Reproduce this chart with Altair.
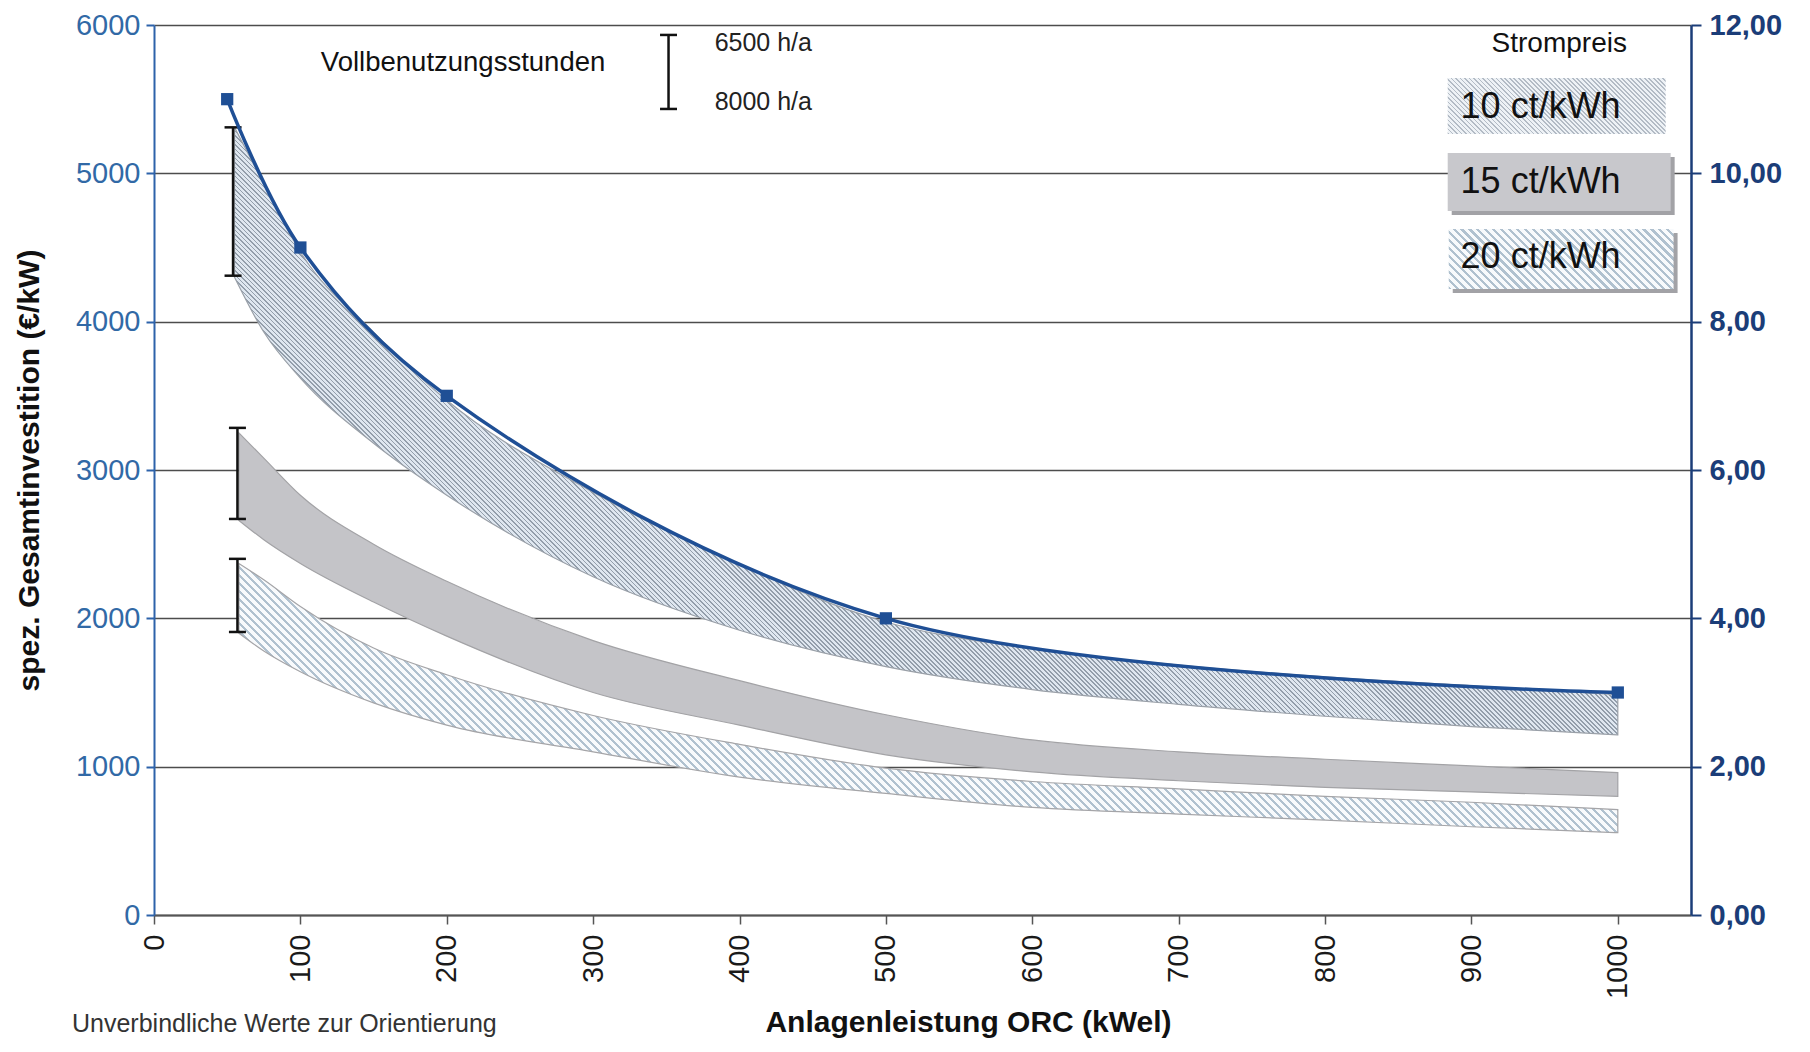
import altair as alt
import pandas as pd

# ---------------- data ----------------
# 10 ct/kWh band
x10 = [55, 75, 100, 150, 200, 300, 400, 500, 600, 700, 800, 900, 1000]
hi10 = [5310, 4930, 4470, 3930, 3470, 2850, 2360, 1975, 1795, 1685, 1605, 1545, 1485]
lo10 = [4300, 3930, 3620, 3180, 2830, 2280, 1920, 1675, 1520, 1420, 1340, 1270, 1214]
# 15 ct/kWh band
x15 = [58, 75, 100, 150, 200, 300, 400, 500, 600, 700, 800, 900, 1000]
hi15 = [3250, 3080, 2830, 2500, 2250, 1850, 1580, 1350, 1180, 1100, 1050, 1005, 960]
lo15 = [2660, 2530, 2370, 2110, 1880, 1500, 1280, 1080, 965, 905, 860, 830, 800]
# 20 ct/kWh band
x20 = [58, 75, 100, 150, 200, 300, 400, 500, 600, 700, 800, 900, 1000]
hi20 = [2370, 2260, 2080, 1800, 1620, 1345, 1150, 990, 900, 850, 800, 760, 710]
lo20 = [1900, 1780, 1640, 1430, 1280, 1100, 930, 820, 725, 680, 640, 595, 555]
# range bars (Vollbenutzungsstunden 6500 / 8000 h/a)
err_x = [54, 57, 57]
err_hi = [5310, 3284, 2401]
err_lo = [4310, 2670, 1908]
# blue line (right axis)
blue_x = [50, 100, 200, 500, 1000]
blue_v = [11.0, 9.0, 7.0, 4.0, 3.0]

x_ticks = [0, 100, 200, 300, 400, 500, 600, 700, 800, 900, 1000]
y_ticks = [0, 1000, 2000, 3000, 4000, 5000, 6000]
r_ticks = [0, 2, 4, 6, 8, 10, 12]

# legend / annotation content (data coordinates)
leg_err_x = [351.5]
leg_err_hi = [5933]
leg_err_lo = [5434]
ann_text = ["Vollbenutzungsstunden", "6500 h/a", "8000 h/a", "Strompreis"]
ann_x = [114, 383, 383, 960]
ann_y = [5744, 5879, 5481, 5872]
box_labels = ["10 ct/kWh", "15 ct/kWh", "20 ct/kWh"]
box_x1 = [883.8, 883.8, 884.5]
box_x2 = [1032.7, 1036.1, 1038.1]
box_top = [5643, 5137, 4625]
box_bot = [5265, 4746, 4220]
box_text_x = [892.6, 892.6, 892.6]
box_text_y = [5447, 4942, 4436]
footnote = "Unverbindliche  Werte zur Orientierung"

# ---------------- layout ----------------
PLOT_W, PLOT_H = 1537, 890
X_MAX, Y_MAX = 1050, 6000
PX_X = PLOT_W / X_MAX
PX_Y = PLOT_H / Y_MAX
FONT = "Liberation Sans, Arial, Helvetica, sans-serif"


def hatch(c_line, c_bg, w_px, h_px, spacing, duty):
    r = h_px / w_px
    s = (1 + r) / (1 + r * r)
    n = max(1, int(round((w_px + h_px) / spacing)))
    stops = []
    for k in range(n):
        a = round(k / n, 6)
        b = round((k + duty) / n, 6)
        c = round((k + 1) / n, 6)
        stops += [
            alt.GradientStop(offset=a, color=c_line),
            alt.GradientStop(offset=b, color=c_line),
            alt.GradientStop(offset=b, color=c_bg),
            alt.GradientStop(offset=c, color=c_bg),
        ]
    return alt.LinearGradient(gradient="linear", stops=stops,
                              x1=0, y1=1, x2=round(s, 6), y2=round(1 - r * s, 6))


xscale = alt.Scale(domain=[0, X_MAX], nice=False, zero=False)
yscale = alt.Scale(domain=[0, Y_MAX], nice=False)
rscale = alt.Scale(domain=[0, 12], nice=False)

x_axis = alt.Axis(values=x_ticks, format="d", labelAngle=270, labelFontSize=29,
                  labelColor="#1a1a1a", labelPadding=10, tickSize=9, tickColor="#555555",
                  tickWidth=1.5, domainColor="#555555", domainWidth=2, grid=False,
                  labelFlush=False, labelOverlap=False,
                  title="Anlagenleistung ORC (kWel)", titleFontSize=30, titleFontWeight="bold",
                  titleColor="#111111", titleX=814, titleY=116, titleAlign="center",
                  titleBaseline="alphabetic")
y_axis = alt.Axis(values=y_ticks, format="d", labelFontSize=29, labelColor="#3169a6",
                  labelPadding=6, tickSize=8, tickColor="#2d62aa", tickWidth=2,
                  domainColor="#2d62aa", domainWidth=2, grid=True, gridColor="#4d4d4d",
                  gridWidth=1.6, labelFlush=False,
                  title="spez. Gesamtinvestition (€/kW)", titleFontSize=30,
                  titleFontWeight="bold", titleColor="#111111", titleX=-125, titleY=445,
                  titleAngle=270, titleAlign="center", titleBaseline="middle")
r_axis = alt.Axis(orient="right", values=r_ticks,
                  labelExpr="replace(format(datum.value, '.2f'), '.', ',')",
                  labelFontSize=29, labelFontWeight="bold", labelColor="#1b3d78",
                  labelPadding=8, tickSize=10, tickColor="#1b3d78", tickWidth=2,
                  domainColor="#1b3d78", domainWidth=2.5, grid=False, labelFlush=False,
                  title=None)

X = lambda f: alt.X(f + ":Q", scale=xscale, axis=x_axis)
Y = lambda f: alt.Y(f + ":Q", scale=yscale, axis=y_axis)

# ---------------- bands ----------------
df10 = pd.DataFrame({"x": x10, "hi": hi10, "lo": lo10})
df15 = pd.DataFrame({"x": x15, "hi": hi15, "lo": lo15})
df20 = pd.DataFrame({"x": x20, "hi": hi20, "lo": lo20})

g10 = hatch("#939eab", "#dfe7f0", (max(x10) - min(x10)) * PX_X,
            (max(hi10) - min(lo10)) * PX_Y, 4.5, 0.4)
g20 = hatch("#b0c1cf", "#f8fafc", (max(x20) - min(x20)) * PX_X,
            (max(hi20) - min(lo20)) * PX_Y, 8, 0.4)

band10 = alt.Chart(df10).mark_area(fill=g10, stroke="#9aa0a8", strokeWidth=1.2,
                                   interpolate="monotone").encode(x=X("x"), y=Y("hi"), y2="lo:Q")
band15 = alt.Chart(df15).mark_area(fill="#c4c4c8", stroke="#a3a3a6", strokeWidth=1.2,
                                   interpolate="monotone").encode(x=X("x"), y=Y("hi"), y2="lo:Q")
band20 = alt.Chart(df20).mark_area(fill=g20, stroke="#a5a5a8", strokeWidth=1.2,
                                   interpolate="monotone").encode(x=X("x"), y=Y("hi"), y2="lo:Q")

# ---------------- range bars ----------------
dferr = pd.DataFrame({"x": err_x + leg_err_x, "hi": err_hi + leg_err_hi, "lo": err_lo + leg_err_lo})
err_rule = alt.Chart(dferr).mark_rule(color="#111111", strokeWidth=2.5).encode(
    x=X("x"), y=Y("hi"), y2="lo:Q")
err_cap_hi = alt.Chart(dferr).mark_tick(orient="horizontal", size=17, thickness=2.5,
                                        color="#111111", opacity=1).encode(x=X("x"), y=Y("hi"))
err_cap_lo = alt.Chart(dferr).mark_tick(orient="horizontal", size=17, thickness=2.5,
                                        color="#111111", opacity=1).encode(x=X("x"), y=Y("lo"))

# ---------------- annotations ----------------
dfann = pd.DataFrame({"x": ann_x, "y": ann_y, "t": ann_text})
ann_big = alt.Chart(dfann.iloc[[0]]).mark_text(align="left", baseline="middle", fontSize=27.5,
                                                color="#111111").encode(x=X("x"), y=Y("y"), text="t:N")
ann_small = alt.Chart(dfann.iloc[[1, 2]]).mark_text(align="left", baseline="middle", fontSize=25,
                                                     color="#222222").encode(x=X("x"), y=Y("y"), text="t:N")
ann_strom = alt.Chart(dfann.iloc[[3]]).mark_text(align="center", baseline="middle", fontSize=28,
                                                  color="#111111").encode(x=X("x"), y=Y("y"), text="t:N")

dfbox = pd.DataFrame({"x1": box_x1, "x2": box_x2, "top": box_top, "bot": box_bot,
                      "tx": box_text_x, "ty": box_text_y, "t": box_labels})
sh_dx = 4 / PX_X
sh_dy = 4 / PX_Y
dfshadow = pd.DataFrame({"x1": [v + sh_dx for v in box_x1[1:]], "x2": [v + sh_dx for v in box_x2[1:]],
                         "top": [v - sh_dy for v in box_top[1:]], "bot": [v - sh_dy for v in box_bot[1:]]})
shadow = alt.Chart(dfshadow).mark_rect(fill="#a2a2a6").encode(
    x=X("x1"), x2="x2:Q", y=Y("top"), y2="bot:Q")

gb10 = hatch("#b3bbc5", "#eef2f6", (box_x2[0] - box_x1[0]) * PX_X,
             (box_top[0] - box_bot[0]) * PX_Y, 4.5, 0.4)
gb20 = hatch("#b0c1cf", "#f8fafc", (box_x2[2] - box_x1[2]) * PX_X,
             (box_top[2] - box_bot[2]) * PX_Y, 8, 0.4)
box10 = alt.Chart(dfbox.iloc[[0]]).mark_rect(fill=gb10).encode(
    x=X("x1"), x2="x2:Q", y=Y("top"), y2="bot:Q")
box15 = alt.Chart(dfbox.iloc[[1]]).mark_rect(fill="#c8c8cc").encode(
    x=X("x1"), x2="x2:Q", y=Y("top"), y2="bot:Q")
box20 = alt.Chart(dfbox.iloc[[2]]).mark_rect(fill=gb20).encode(
    x=X("x1"), x2="x2:Q", y=Y("top"), y2="bot:Q")
box_txt = alt.Chart(dfbox).mark_text(align="left", baseline="middle", fontSize=36,
                                     color="#111111").encode(x=X("tx"), y=Y("ty"), text="t:N")

foot = alt.Chart(pd.DataFrame({"t": [footnote]})).mark_text(
    align="left", baseline="middle", fontSize=25, color="#333333").encode(
    x=alt.value(-82), y=alt.value(999), text="t:N")

left = alt.layer(band20, band15, band10, err_rule, err_cap_hi, err_cap_lo,
                 ann_big, ann_small, ann_strom, shadow, box10, box15, box20, box_txt, foot)

# ---------------- blue line (right axis) ----------------
dfb = pd.DataFrame({"x": blue_x, "v": blue_v})
blue_line = alt.Chart(dfb).mark_line(color="#1f4f95", strokeWidth=3.5,
                                     interpolate="catmull-rom").encode(
    x=X("x"), y=alt.Y("v:Q", scale=rscale, axis=r_axis))
blue_pts = alt.Chart(dfb).mark_square(size=150, color="#1f4f95", opacity=1, filled=True).encode(
    x=X("x"), y=alt.Y("v:Q", scale=rscale, axis=r_axis))
right = alt.layer(blue_line, blue_pts)

chart = alt.layer(left, right).resolve_scale(y="independent").properties(
    width=PLOT_W, height=PLOT_H,
    autosize=alt.AutoSizeParams(type="none"),
    padding={"left": 146, "top": 17, "right": 110, "bottom": 126},
).configure(font=FONT).configure_view(strokeWidth=0)

chart.save("out.html", embed_options={"renderer": "svg", "actions": False})
